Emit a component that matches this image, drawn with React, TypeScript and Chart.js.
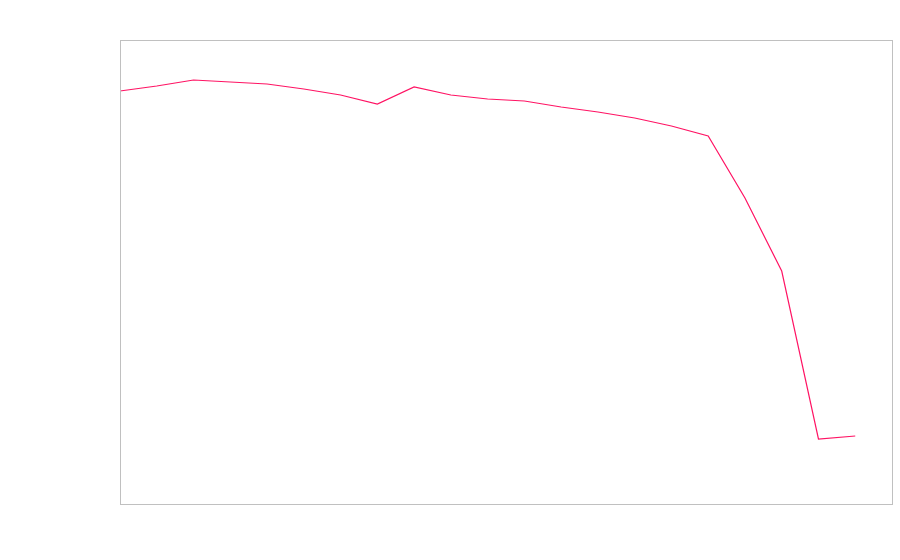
import React, { useEffect, useRef } from "react";
import { Chart, registerables } from "chart.js";

Chart.register(...registerables);

const categories: string[] = [
  "1", "2", "3", "4", "5", "6", "7", "8", "9", "10", "11",
  "12", "13", "14", "15", "16", "17", "18", "19", "20", "21", "22",
];

const seriesValues: (number | null)[] = [
  413, 418, 424, 422, 420, 415, 409, 400, 417, 409, 405,
  403, 397, 392, 386, 378, 368, 306, 233, 65, 68, null,
];

const yMin = 0;
const yMax = 464;

const boxPlugin = {
  id: "boxBorder",
  afterDraw(chart: any) {
    const { ctx, chartArea } = chart;
    ctx.save();
    ctx.strokeStyle = "#c0c0c0";
    ctx.lineWidth = 1;
    ctx.strokeRect(
      Math.round(chartArea.left) + 0.5,
      Math.round(chartArea.top) + 0.5,
      Math.round(chartArea.right - chartArea.left),
      Math.round(chartArea.bottom - chartArea.top)
    );
    ctx.restore();
  },
};

export default function App() {
  const ref = useRef<HTMLCanvasElement | null>(null);
  useEffect(() => {
    if (!ref.current) return;
    const chart = new Chart(ref.current, {
      type: "line",
      data: {
        labels: categories,
        datasets: [
          {
            data: seriesValues,
            borderColor: "#ff1464",
            borderWidth: 1.2,
            pointRadius: 0,
            fill: false,
            tension: 0,
          },
        ],
      },
      options: {
        animation: false,
        responsive: false,
        layout: { padding: { left: 120, top: 40, right: 8, bottom: 56 } },
        plugins: { legend: { display: false }, tooltip: { enabled: false } },
        scales: {
          x: {
            display: false,
            offset: false,
          },
          y: {
            display: false,
            min: yMin,
            max: yMax,
          },
        },
      },
      plugins: [boxPlugin],
    });
    return () => chart.destroy();
  }, []);
  return (
    <div style={{ position: "fixed", left: 0, top: 0, width: 900, height: 560, background: "#fff" }}>
      <canvas ref={ref} width={900} height={560} />
    </div>
  );
}
